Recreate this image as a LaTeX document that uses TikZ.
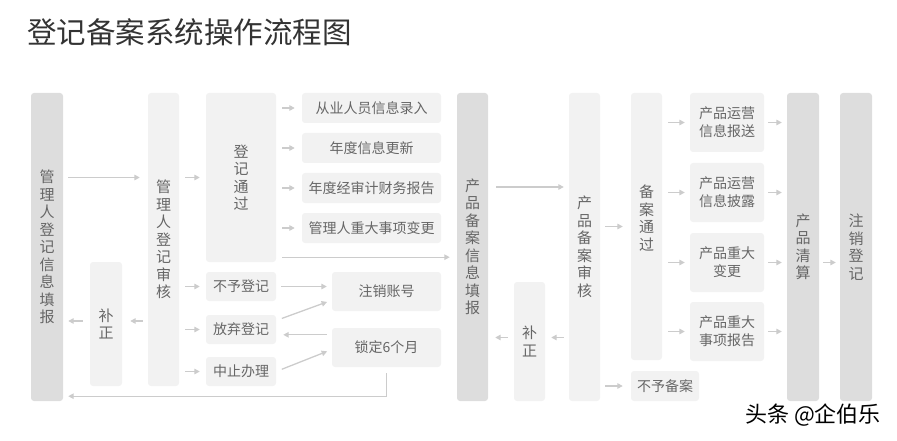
\documentclass[tikz,border=0pt]{standalone}
\usepackage{fontspec}
\setmainfont{Noto Sans CJK SC}
\usetikzlibrary{arrows.meta}
\definecolor{boxdark}{HTML}{DDDDDD}
\definecolor{boxlight}{HTML}{F2F2F2}
\definecolor{txtgray}{HTML}{666666}
\definecolor{linegray}{HTML}{CCCCCC}
\definecolor{titlegray}{HTML}{333333}
\tikzset{
  x=1pt, y=-1pt,
  % tall columns, dark and light
  col/.style={fill=boxdark, rounded corners=3pt, inner sep=0pt, text=txtgray,
    align=center, font=\fontsize{15}{17.5}\selectfont},
  lcol/.style={col, fill=boxlight},
  % small step boxes
  stepbox/.style={fill=boxlight, rounded corners=3pt, inner sep=0pt, text=txtgray,
    align=center, font=\fontsize{14}{18}\selectfont},
  % connectors
  flow/.style={draw=linegray, line width=1.3pt, shorten <=6pt, shorten >=6pt,
    -{Triangle[length=5.5pt,width=5.5pt]}},
}

\begin{document}
\begin{tikzpicture}
  \useasboundingbox (0,0) rectangle (897,441);

  \node[anchor=west, inner sep=0pt, text=titlegray, font=\fontsize{29.5}{31}\selectfont]
    (title) at (27,32) {登记备案系统操作流程图};

  % manager registration
  \node[col, minimum width=32pt, minimum height=308pt] (xinxi) at (47,247)
    {管\\理\\人\\登\\记\\信\\息\\填\\报};
  \node[lcol, minimum width=32pt, minimum height=124pt] (buzhengA) at (106,324) {补\\正};
  \node[lcol, minimum width=31pt, minimum height=293pt] (shenhe) at (163.5,239.5)
    {管\\理\\人\\登\\记\\审\\核};
  \node[lcol, minimum width=70pt, minimum height=169pt] (tongguo) at (241,177.5)
    {登\\记\\通\\过};
  \node[stepbox, minimum width=70pt, minimum height=29pt] (buyu) at (241,286.5) {不予登记};
  \node[stepbox, minimum width=70pt, minimum height=29pt] (fangqi) at (241,329.5) {放弃登记};
  \node[stepbox, minimum width=70pt, minimum height=29pt] (zhongzhi) at (241,371.5) {中止办理};

  \node[stepbox, minimum width=139pt, minimum height=30pt] (luru) at (371.5,108) {从业人员信息录入};
  \node[stepbox, minimum width=139pt, minimum height=30pt] (gengxin) at (371.5,148) {年度信息更新};
  \node[stepbox, minimum width=139pt, minimum height=30pt] (caiwu) at (371.5,188) {年度经审计财务报告};
  \node[stepbox, minimum width=139pt, minimum height=30pt] (biangengA) at (371.5,228) {管理人重大事项变更};
  \node[stepbox, minimum width=109pt, minimum height=39pt] (zhuxiao) at (386.5,291.5) {注销账号};
  \node[stepbox, minimum width=109pt, minimum height=39pt] (suoding) at (386.5,347.5) {锁定6个月};

  % product filing
  \node[col, minimum width=31pt, minimum height=308pt] (tianbao) at (472.5,247)
    {产\\品\\备\\案\\信\\息\\填\\报};
  \node[lcol, minimum width=31pt, minimum height=119pt] (buzhengB) at (529.5,341.5) {补\\正};
  \node[lcol, minimum width=31pt, minimum height=308pt] (bshenhe) at (584.5,247)
    {产\\品\\备\\案\\审\\核};
  \node[lcol, minimum width=31pt, minimum height=267pt] (tongguoB) at (646.5,226.5)
    {备\\案\\通\\过\\~};
  \node[stepbox, minimum width=68pt, minimum height=30pt] (bubei) at (665,386) {不予备案};

  \node[stepbox, minimum width=74pt, minimum height=59pt] (baosong) at (727,122.5) {产品运营\\信息报送};
  \node[stepbox, minimum width=74pt, minimum height=59pt] (pilu) at (727,192.5) {产品运营\\信息披露};
  \node[stepbox, minimum width=74pt, minimum height=59pt] (biangengB) at (727,262.5) {产品重大\\变更};
  \node[stepbox, minimum width=74pt, minimum height=59pt] (baogao) at (727,331.5) {产品重大\\事项报告};

  \node[col, minimum width=32pt, minimum height=308pt] (qingsuan) at (803,247) {产\\品\\清\\算};
  \node[col, minimum width=32pt, minimum height=308pt] (zxdj) at (856,247) {注\\销\\登\\记};

  \node[font=\fontsize{22}{23}\selectfont] (mark) at (813,415) {头条 @企伯乐};

  % helper points
  \coordinate (tgout) at ([yshift=5pt]tongguo.south east);
  \coordinate (sdin) at ([yshift=-7pt]suoding.north west);
  \coordinate (back) at ([yshift=5pt]xinxi.south east);

  % connectors, left part
  \draw[flow, shorten <=5pt, shorten >=8pt] (xinxi.east |- tongguo.west) -- (shenhe.west |- tongguo.west);
  \draw[flow, shorten <=5pt, shorten >=8pt] ([yshift=3pt]shenhe.west |- buzhengA.east) -- ([yshift=3pt]buzhengA.east);
  \draw[flow, shorten <=7pt, shorten >=5pt] ([yshift=3pt]buzhengA.west) -- ([yshift=3pt]xinxi.east |- buzhengA.west);
  \foreach \n in {tongguo, buyu, fangqi, zhongzhi}
    \draw[flow] (shenhe.east |- \n.west) -- (\n.west);
  \foreach \n in {luru, gengxin, caiwu, biangengA}
    \draw[flow, shorten >=7pt] (tongguo.east |- \n.west) -- (\n.west);
  \draw[flow, shorten >=7pt] (tgout) -- (tianbao.west |- tgout);
  \draw[flow, shorten <=5pt, shorten >=5pt] (buyu.east) -- (zhuxiao.west |- buyu.east);
  \draw[flow, shorten <=6pt, shorten >=5pt] ([yshift=9pt]fangqi.east) -- ([yshift=11pt]zhuxiao.south west);
  \draw[flow, shorten <=5pt, shorten >=7pt] (sdin) -- (fangqi.east |- sdin);
  \draw[flow, shorten <=6pt, shorten >=5pt] (zhongzhi.east) -- ([yshift=-2pt]suoding.west);
  \draw[flow, shorten <=6pt, shorten >=5pt] (suoding.south) |- (back);

  % connectors, right part
  \draw[flow, shorten <=8pt, shorten >=5pt] ([yshift=60pt]tianbao.east) -- ([yshift=60pt]bshenhe.west);
  \draw[flow, shorten <=5pt, shorten >=6pt] ([yshift=4pt]bshenhe.west |- buzhengB.east) -- ([yshift=4pt]buzhengB.east);
  \draw[flow, shorten <=6pt, shorten >=7pt] ([yshift=4pt]buzhengB.west) -- ([yshift=4pt]tianbao.east |- buzhengB.west);
  \draw[flow, shorten <=5pt, shorten >=8pt] (bshenhe.east |- tongguoB.west) -- (tongguoB.west);
  \draw[flow, shorten <=5pt, shorten >=8pt] (bshenhe.east |- bubei.west) -- (bubei.west);
  \foreach \n in {baosong, pilu, biangengB, baogao} {
    \draw[flow, shorten >=5pt] (tongguoB.east |- \n.west) -- (\n.west);
    \draw[flow, shorten <=4pt, shorten >=5pt] (\n.east) -- (qingsuan.west |- \n.east);
  }
  \draw[flow, shorten <=4pt, shorten >=4pt] (qingsuan.east |- biangengB.east) -- (zxdj.west |- biangengB.east);
\end{tikzpicture}
\end{document}
